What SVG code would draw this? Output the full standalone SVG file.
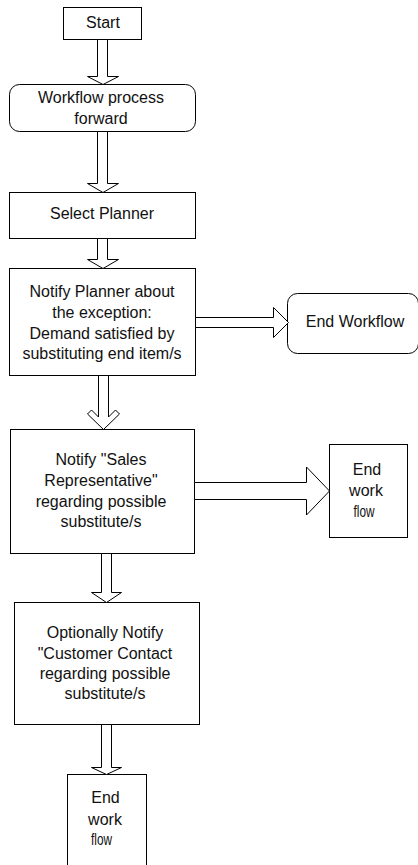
<svg xmlns="http://www.w3.org/2000/svg" width="418" height="865" viewBox="0 0 418 865">
<style>
.box{fill:#fff;stroke:#000;stroke-width:1}
.arr{fill:#fff;stroke:#000;stroke-width:1;stroke-linejoin:miter}
text{font-family:"Liberation Sans",Arial,sans-serif;font-size:16px;fill:#111;text-anchor:middle}
</style>
<rect width="418" height="865" fill="#fff"/>
<g id="start"><rect class="box" x="63.5" y="7.5" width="78" height="32"/><text x="103" y="28">Start</text></g>
<g id="workflow-forward"><rect class="box" x="9.5" y="84.5" width="186" height="47" rx="10"/><text x="101" y="103">Workflow process</text><text x="101" y="124">forward</text></g>
<g id="select-planner"><rect class="box" x="9.5" y="192.5" width="186" height="46"/><text x="102" y="219">Select Planner</text></g>
<g id="notify-planner"><rect class="box" x="9.5" y="268.5" width="186" height="107"/><text x="102" y="297">Notify Planner about</text><text x="102" y="318">the exception:</text><text x="102" y="339">Demand satisfied by</text><text x="102" y="359">substituting end item/s</text></g>
<g id="end-workflow"><rect class="box" x="287.5" y="293.5" width="131" height="60" rx="10"/><text x="355" y="327">End Workflow</text></g>
<g id="notify-sales"><rect class="box" x="10.5" y="429.5" width="184" height="124"/><text x="101" y="465">Notify "Sales</text><text x="101" y="486">Representative"</text><text x="101" y="507">regarding possible</text><text x="101" y="527">substitute/s</text></g>
<g id="end-work-flow-right"><rect class="box" x="329.5" y="444.5" width="78" height="93"/><text x="367" y="475">End</text><text x="366" y="496">work</text><text x="364" y="517" textLength="21" lengthAdjust="spacingAndGlyphs">flow</text></g>
<g id="notify-customer"><rect class="box" x="14.5" y="602.5" width="185" height="122"/><text x="105" y="638">Optionally Notify</text><text x="105" y="659">"Customer Contact</text><text x="105" y="679">regarding possible</text><text x="105" y="699">substitute/s</text></g>
<g id="end-work-flow-bottom"><rect class="box" x="67.5" y="774.5" width="79" height="100"/><text x="105.5" y="803">End</text><text x="105" y="825">work</text><text x="101.5" y="845" textLength="21" lengthAdjust="spacingAndGlyphs">flow</text></g>
<g id="connectors">
<polygon class="arr" points="97.5,39.5 97.5,76.5 87.5,76.5 103,84.5 118.5,76.5 107.5,76.5 107.5,39.5"/>
<polygon class="arr" points="97.5,131.5 97.5,183.5 87.5,183.5 103,192.5 118.5,183.5 107.5,183.5 107.5,131.5"/>
<polygon class="arr" points="97.5,238.5 97.5,259.5 87.5,259.5 103,268.5 118.5,259.5 107.5,259.5 107.5,238.5"/>
<polygon class="arr" points="98.5,375.5 98.5,417 91.5,410 87.5,414 103.5,429.5 119.5,414 115.5,410 108.5,417 108.5,375.5"/>
<polygon class="arr" points="195.5,317.5 273.5,317.5 273.5,307.5 288.5,322.5 273.5,337.5 273.5,327.5 195.5,327.5"/>
<polygon class="arr" points="194.5,482.5 306.5,482.5 306.5,467 329.5,491 306.5,515 306.5,499.5 194.5,499.5"/>
<polygon class="arr" points="101.5,553.5 101.5,592.5 91.5,592.5 106.5,602.5 121.5,592.5 111.5,592.5 111.5,553.5"/>
<polygon class="arr" points="101.5,724.5 101.5,767.5 91.5,767.5 106.5,774.5 121.5,767.5 111.5,767.5 111.5,724.5"/>
</g>
</svg>
